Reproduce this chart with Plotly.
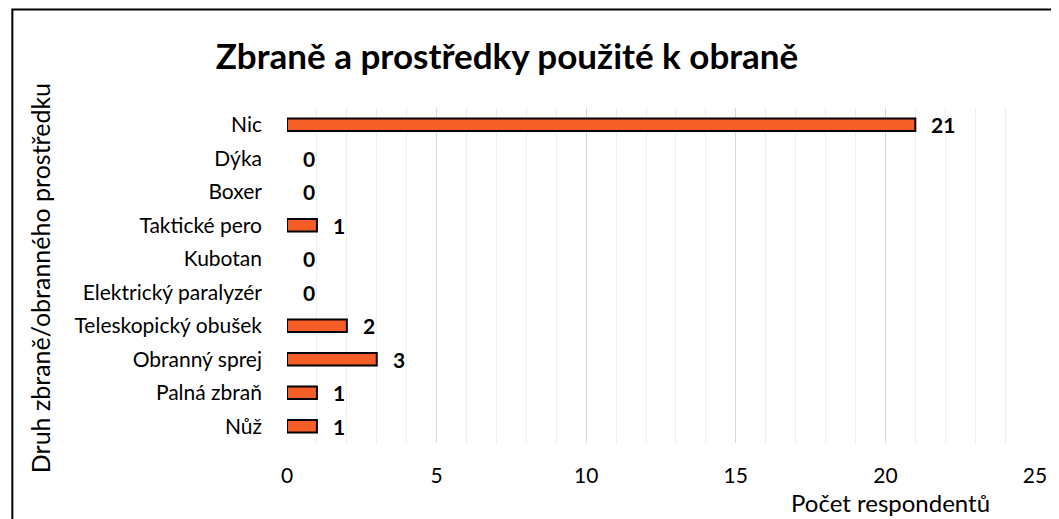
import plotly.graph_objects as go

categories = ["Nůž", "Palná zbraň", "Obranný sprej", "Teleskopický obušek",
              "Elektrický paralyzér", "Kubotan", "Taktické pero", "Boxer", "Dýka", "Nic"]
counts = [1, 1, 3, 2, 0, 0, 1, 0, 0, 21]
x_ticks = [0, 5, 10, 15, 20, 25]

FONT = "Lato"

fig = go.Figure()
fig.add_trace(go.Bar(
    x=counts,
    y=categories,
    orientation="h",
    # no outline on empty bars, otherwise a black stub shows at zero
    marker=dict(color="rgb(246,94,40)",
                line=dict(color="black", width=[2 if v else 0 for v in counts])),
    showlegend=False,
))

# data labels next to the bars
for c, v in zip(categories, counts):
    fig.add_annotation(x=v, y=c, text=f"<b>{v}</b>", showarrow=False,
                       xanchor="left", xshift=14, font=dict(size=21, color="black", family=FONT))

# page body has an 8px margin, so the figure is sized to what stays visible
fig.update_layout(
    width=1051, height=511,
    margin=dict(l=279, r=15, t=100, b=76),
    paper_bgcolor="white", plot_bgcolor="white",
    bargap=0.62,
    font=dict(family=FONT, color="black", size=21),
    title=dict(text="<b>Zbraně a prostředky použité k obraně</b>", x=0.4748, xanchor="center",
               y=0.904, yanchor="middle", font=dict(size=35, family=FONT)),
)
fig.update_xaxes(range=[0, 25], tickvals=x_ticks, showgrid=True, gridcolor="#d9d9d9", gridwidth=1,
                 minor=dict(dtick=1, showgrid=True, gridcolor="#eeeeee", gridwidth=1),
                 zeroline=False, showline=False, ticks="", ticklabelstandoff=18,
                 tickfont=dict(size=21))
fig.update_yaxes(showgrid=False, ticks="", ticklabelstandoff=24, tickfont=dict(size=21))

fig.add_annotation(text="Druh zbraně/obranného prostředku", xref="paper", yref="paper",
                   x=-0.330, y=0.4925, xanchor="center", yanchor="middle", textangle=-90,
                   showarrow=False, font=dict(size=25, family=FONT))
fig.add_annotation(text="Počet respondentů", xref="paper", yref="paper",
                   x=0.807, y=-0.179, xanchor="center", yanchor="middle",
                   showarrow=False, font=dict(size=24, family=FONT))

# outer chart border
fig.add_shape(type="rect", xref="paper", yref="paper", x0=-0.3672, x1=1.2, y0=-0.5, y1=1.294,
              line=dict(color="black", width=2))

fig.write_html("out.html")
